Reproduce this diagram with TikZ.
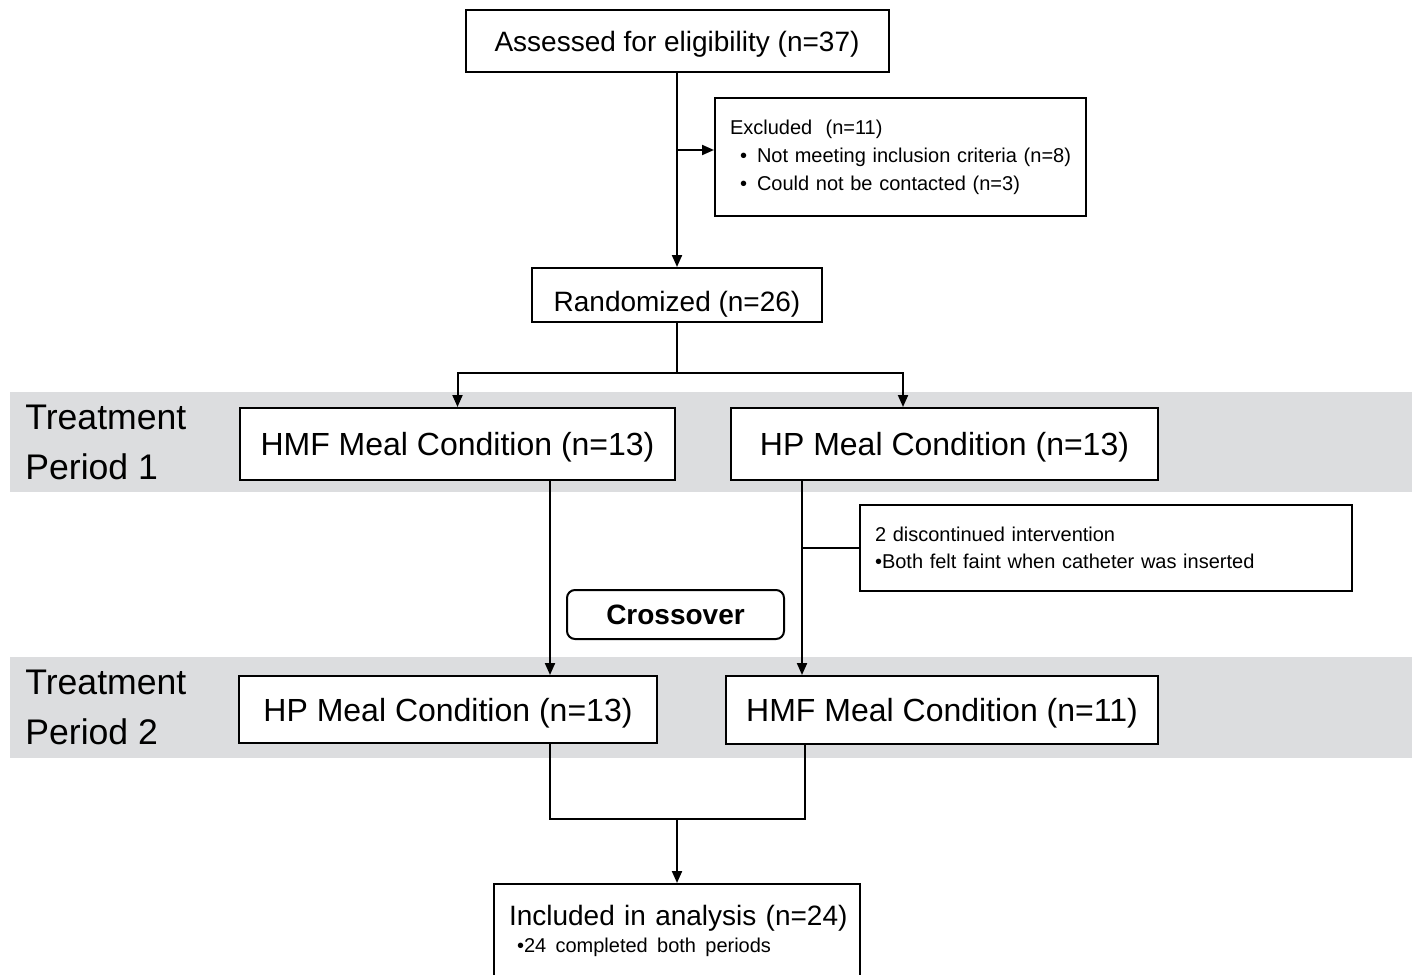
\documentclass[tikz,border=0pt]{standalone}
\usepackage{fontspec}
\setmainfont{Liberation Sans}
\usetikzlibrary{arrows.meta, calc}
\definecolor{bandgray}{RGB}{220,221,223}

\begin{document}
\begin{tikzpicture}[
    x=0.5pt, y=-0.5pt,
    box/.style={draw, line width=1pt, fill=white, align=center, inner sep=0pt},
    headbox/.style={box, text depth=0pt, font=\fontsize{14}{17}\selectfont},
    mealbox/.style={box, text depth=0pt, font=\fontsize{16}{19}\selectfont},
    notebox/.style={box, align=left, inner xsep=7.5pt, font=\fontsize{10}{14}\selectfont},
    period/.style={align=left, inner sep=0pt, anchor=west, font=\fontsize{17.8}{25}\selectfont},
    band/.style={fill=bandgray},
    arrow/.style={-{Triangle[length=6pt, width=5pt]}, line width=1pt},
    link/.style={line width=1pt},
]
\useasboundingbox (0,0) rectangle (1416,974);
\clip (0,0) rectangle (1416,974);
\fill[white] (0,0) rectangle (1416,974);

% --- PERIOD BANDS ---
\fill[band] (10,392) rectangle (1412,492);
\fill[band] (10,657) rectangle (1412,758);
\node[period] (tpone) at (25,442) {Treatment\\Period 1};
\node[period] (tptwo) at (25,707) {Treatment\\Period 2};

% --- ENROLMENT ---
\node[headbox, minimum width=211.5pt, minimum height=31pt] (assess) at (677,41) {Assessed for eligibility (n=37)};
\node[notebox, text width=170.5pt, minimum height=59pt] (excl) at (900.5,157) {\mbox{Excluded\ \ (n=11)}\\
    \mbox{\hspace*{5pt}•\hspace{5pt}Not meeting inclusion criteria (n=8)}\\
    \mbox{\hspace*{5pt}•\hspace{5pt}Could not be contacted (n=3)}};
\node[headbox, minimum width=145pt, minimum height=27pt, text height=16pt] (rand) at (677,295) {Randomized (n=26)};

% --- TREATMENT PERIOD 1 ---
\node[mealbox, minimum width=217.5pt, minimum height=36pt] (hmfone) at (457.5,444) {HMF Meal Condition (n=13)};
\node[mealbox, minimum width=213.5pt, minimum height=36pt] (hpone) at (944.5,444) {HP Meal Condition (n=13)};

\node[notebox, text width=231pt, minimum height=43pt, font=\fontsize{10}{13.5}\selectfont] (disc) at (1106,548) {\mbox{2 discontinued intervention}\\\mbox{•Both felt faint when catheter was inserted}};
\node[box, rounded corners=4pt, minimum width=108.5pt, minimum height=24.5pt, font=\fontsize{14}{17}\selectfont\bfseries] (cross) at (675.5,614.5) {Crossover};

% --- TREATMENT PERIOD 2 ---
\node[mealbox, minimum width=209pt, minimum height=33.5pt] (hptwo) at (448,709.5) {HP Meal Condition (n=13)};
\node[mealbox, minimum width=216pt, minimum height=34pt] (hmftwo) at (942,710) {HMF Meal Condition (n=11)};

% --- ANALYSIS ---
\node[notebox, anchor=north, text width=168pt, inner ysep=10.8pt, font=\fontsize{14}{17}\selectfont] (incl) at (677,883) {\setlength{\lineskiplimit}{-20pt}\mbox{Included in analysis (n=24)}\\[-3.5pt]
    \mbox{\hspace*{4pt}\fontsize{10}{12}\selectfont •24 completed both periods}\\[30pt]\mbox{}};

% Connectors
\draw[arrow] (assess.south) -- (rand.north);
\coordinate (exclin) at ([yshift=3.5pt]excl.west);
\draw[arrow] (exclin -| assess.south) -- (exclin);

\draw[link] (rand.south) -- ++(0,50) coordinate (split);
\coordinate (hpin) at ([xshift=-20.75pt]hpone.north);
\draw[arrow] (split) -| (hmfone.north);
\draw[arrow] (split) -| (hpin);

\coordinate (leftdown) at ([xshift=46.25pt]hmfone.south);
\coordinate (rightdown) at ([xshift=-71.25pt]hpone.south);
\draw[arrow] (leftdown) -- (leftdown |- hptwo.north);
\draw[arrow] (rightdown) -- (rightdown |- hmftwo.north);
\draw[link] (rightdown |- disc.west) -- (disc.west);

\coordinate (leftup) at (leftdown |- hptwo.south);
\coordinate (rightup) at ([xshift=-68.5pt]hmftwo.south);
\draw[link] (leftup) -- ++(0,75) coordinate (merge) -| (rightup);
\draw[arrow] (merge -| incl.north) -- (incl.north);

\end{tikzpicture}
\end{document}
